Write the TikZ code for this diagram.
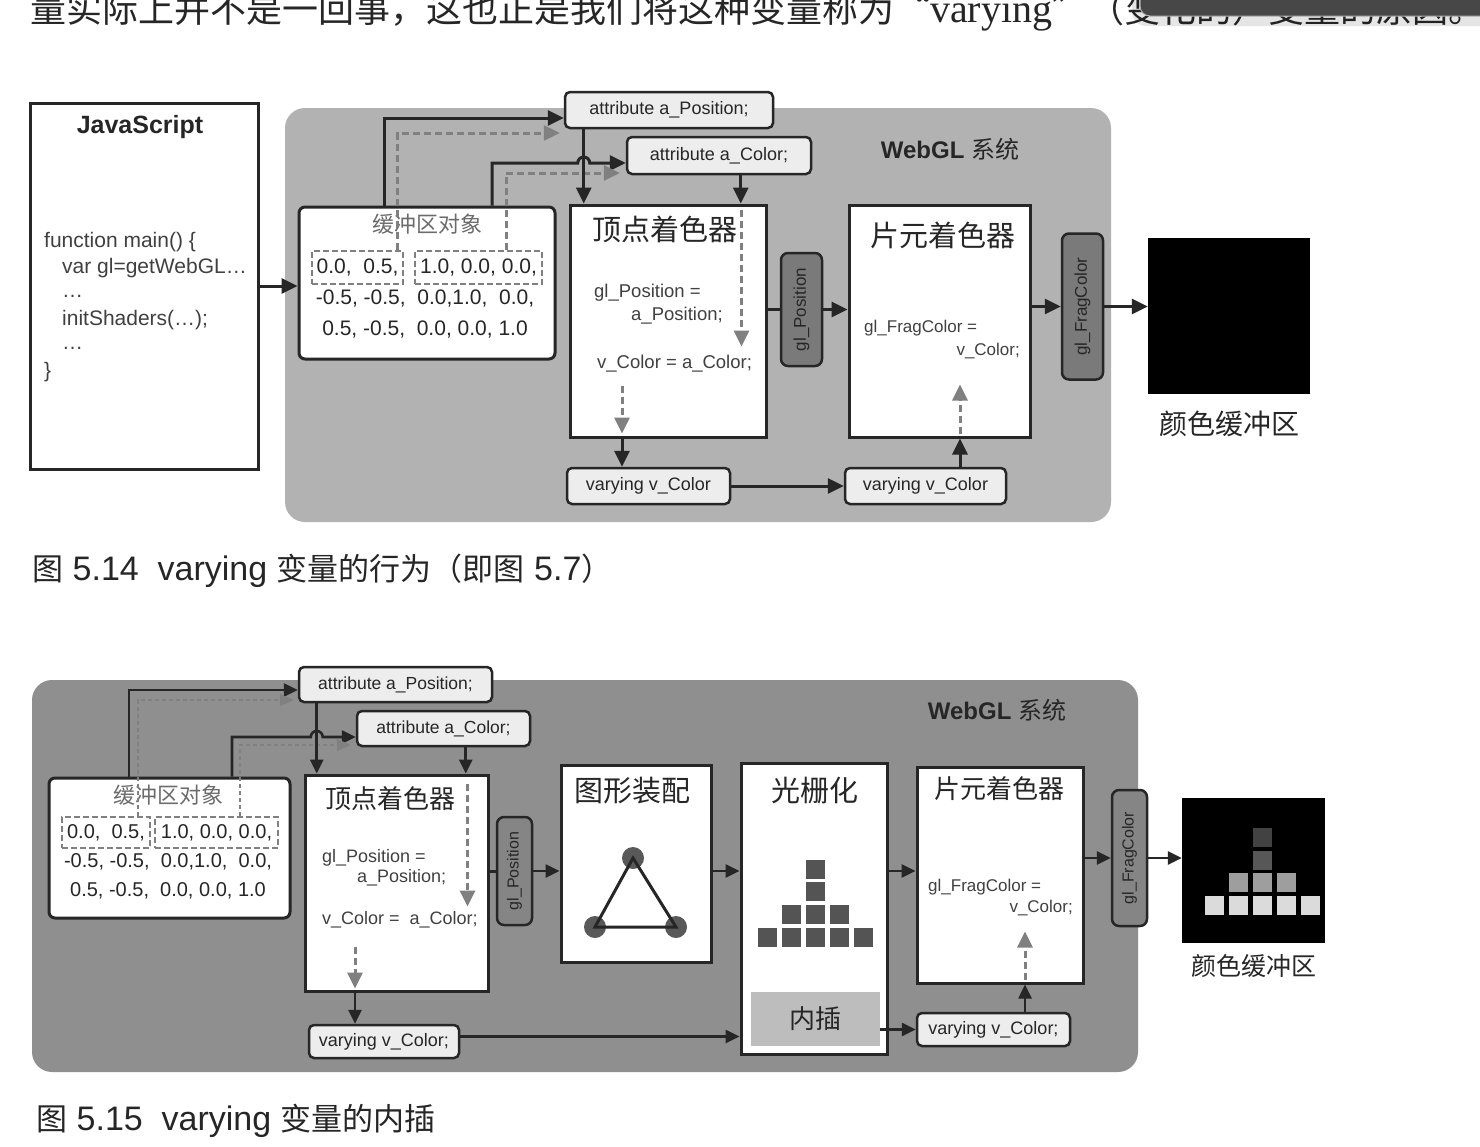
\documentclass[tikz,border=0pt]{standalone}
\usepackage{graphicx}
\usepackage{fontspec}
\setmainfont{Liberation Sans}
\newfontfamily\cjk{Noto Sans CJK SC}
\newfontfamily\bookserif{Liberation Serif}
\usetikzlibrary{arrows.meta, positioning}

\definecolor{panelA}{gray}{0.70}
\definecolor{panelB}{gray}{0.56}
\definecolor{tagfill}{gray}{0.93}
\definecolor{pillA}{gray}{0.48}
\definecolor{pillB}{gray}{0.52}
\definecolor{dashgray}{gray}{0.50}
\definecolor{ink}{gray}{0.15}
\definecolor{codeink}{gray}{0.25}
\definecolor{titlegray}{gray}{0.42}
\definecolor{pixel}{gray}{0.33}
\definecolor{vertexgray}{gray}{0.35}
\definecolor{interpfill}{gray}{0.74}
\definecolor{barfill}{gray}{0.28}
\definecolor{pixA}{gray}{0.86}
\definecolor{pixB}{gray}{0.62}
\definecolor{pixC}{gray}{0.34}
\definecolor{pixD}{gray}{0.26}

\newcommand\pxfont[1]{\fontsize{#1}{#1}\selectfont}

\begin{document}
\begin{tikzpicture}[x=1pt, y=-1pt,
    box/.style={draw=ink, line width=3pt, fill=white, inner sep=0pt},
    bufbox/.style={box, rounded corners=6pt},
    tag/.style={draw=ink, line width=2.5pt, fill=tagfill, rounded corners=5pt, inner sep=0pt, text=ink},
    pill/.style={draw=ink, line width=2.5pt, rounded corners=7pt, inner sep=0pt, text=ink},
    slot/.style={draw=dashgray, line width=2.5pt, dash pattern=on 6pt off 3pt, inner sep=0pt, text=ink},
    code/.style={inner sep=0pt, text=codeink, anchor=base west},
    flow/.style={draw=ink, line width=3pt, -{Triangle[length=16pt,width=15pt]}},
    flowB/.style={draw=ink, line width=2.6pt, -{Triangle[length=14pt,width=13pt]}},
    dflow/.style={draw=dashgray, line width=3pt, dash pattern=on 7pt off 4pt, -{Triangle[length=16pt,width=15pt]}},
    dthin/.style={draw=dashgray, line width=1.8pt, dash pattern=on 4pt off 3pt, -{Triangle[length=14pt,width=12pt]}},
    wire/.style={draw=ink, line width=3pt}
]
\useasboundingbox (0,0) rectangle (1480,1146);
\clip (0,0) rectangle (1480,1146);
\fill[white] (0,0) rectangle (1480,1146);

% body text cut by the page top
\node[anchor=base west, inner sep=0pt, text=ink] (bodyline) at (30,22) {\pxfont{36}\cjk 量实际上并不是一回事，这也正是我们将这种变量称为“{\bookserif\pxfont{40}varying}”（变化的）变量的原因。};
\fill[black, opacity=0.10, rounded corners=14pt] (1132,-20) rectangle (1500,26);
\fill[barfill, draw=gray!60, line width=1pt, rounded corners=10pt] (1140,-20) rectangle (1500,16);

%% figure 5.14
\fill[panelA, rounded corners=20pt] (285,108) rectangle (1111,522);
\node[text=ink] (sysA) at (950,149) {\pxfont{24}\bfseries WebGL {\mdseries\cjk 系统}};

\node[box, minimum width=228pt, minimum height=366pt] (js) at (144,286) {};
\node[text=ink] (jsname) at (140,127) {\pxfont{25}\bfseries JavaScript};
\node[code] (js1) at (44,247) {\pxfont{21}function main() \{};
\node[code] (js2) at (62,273) {\pxfont{21}var gl=getWebGL…};
\node[code] (js3) at (62,297) {\pxfont{21}…};
\node[code] (js4) at (62,325) {\pxfont{21}initShaders(…);};
\node[code] (js5) at (62,349) {\pxfont{21}…};
\node[code] (js6) at (44,377) {\pxfont{21}\}};

\node[bufbox, minimum width=256pt, minimum height=152pt] (buf) at (427,283) {};
\node[text=titlegray] (buftitle) at (427,224) {\pxfont{22}\cjk 缓冲区对象};
\node[slot, minimum width=91pt, minimum height=33pt] (posA) at (357.5,267.5) {\pxfont{21}0.0,\ \ 0.5,};
\node[slot, minimum width=127pt, minimum height=33pt] (colA) at (478.5,267.5) {\pxfont{21}1.0, 0.0, 0.0,};
\node[text=ink] (rowA2) at (425,299) {\pxfont{21}-0.5, -0.5,\ \ 0.0,1.0,\ \ 0.0,};
\node[text=ink] (rowA3) at (425,330) {\pxfont{21}0.5, -0.5,\ \ 0.0, 0.0, 1.0};

\node[tag, minimum width=208pt, minimum height=36pt] (posTag) at (669,110) {\pxfont{18}attribute a\_Position;};
\node[tag, minimum width=184pt, minimum height=37pt] (colTag) at (719,155.5) {\pxfont{18}attribute a\_Color;};

\node[box, minimum width=196pt, minimum height=232pt] (vsA) at (668,321) {};
\node[text=ink] (vsAname) at (665,229) {\pxfont{29}\cjk 顶点着色器};
\node[code] (vsA1) at (594,297) {\pxfont{18.5}gl\_Position =};
\node[code] (vsA2) at (631,320) {\pxfont{18.5}a\_Position;};
\node[code] (vsA3) at (597,368) {\pxfont{18.5}v\_Color = a\_Color;};

\node[pill, fill=pillA, minimum width=41pt, minimum height=113pt] (glpA) at (801.5,309.5) {\rotatebox{90}{\pxfont{17}gl\_Position}};

\node[box, minimum width=181pt, minimum height=232pt] (fsA) at (939.5,321) {};
\node[text=ink] (fsAname) at (943,235) {\pxfont{29}\cjk 片元着色器};
\node[code] (fsA1) at (864,332) {\pxfont{17}gl\_FragColor =};
\node[code, anchor=base east] (fsA2) at (1020,355) {\pxfont{17}v\_Color;};

\node[pill, fill=pillA, minimum width=41pt, minimum height=146pt] (glfA) at (1082.5,306.5) {\rotatebox{90}{\pxfont{17}gl\_FragColor}};

\node[tag, minimum width=163pt, minimum height=36pt] (varA1) at (648.5,486) {\pxfont{18}varying v\_Color};
\node[tag, minimum width=161pt, minimum height=36pt] (varA2) at (925.5,486) {\pxfont{18}varying v\_Color};

\node[fill=black, minimum width=162pt, minimum height=156pt, inner sep=0pt] (cbA) at (1229,316) {};
\node[text=ink, below=13pt of cbA] (cbAname) {\pxfont{28}\cjk 颜色缓冲区};

\draw[flow] (js.east) -- (buf.west |- js.east);
\coordinate (posUpA) at ([xshift=-43pt]buf.north);
\draw[flow] (posUpA) |- ([yshift=-8pt]posTag.west);
\coordinate (colUpA) at ([xshift=65pt]buf.north);
\coordinate (hopA) at ([xshift=-48pt,yshift=-7.5pt]colTag.west);
\draw[flow] (colUpA) |- (hopA) arc[start angle=180, end angle=0, radius=6pt] -- ([yshift=-7.5pt]colTag.west);
\coordinate (posDashA) at ([xshift=40pt]posA.north);
\draw[dflow] (posDashA) |- ([xshift=-4pt,yshift=-23pt]posTag.west);
\coordinate (colDashA) at ([xshift=27.5pt]colA.north);
\draw[dflow] (colDashA) |- ([xshift=-6pt,yshift=-17.5pt]colTag.west);
\coordinate (posDropA) at ([xshift=20pt]posTag.south west);
\draw[flow] (posDropA) -- (posDropA |- vsA.north);
\coordinate (colDropA) at ([xshift=115pt]colTag.south west);
\draw[flow] (colDropA) -- (colDropA |- vsA.north);
\coordinate (colInA) at ([xshift=-26pt,yshift=-6pt]vsA.north east);
\coordinate (colOutA) at ([xshift=-26pt,yshift=92pt]vsA.south east);
\draw[dflow] (colInA) -- (colOutA);
\coordinate (varInA) at ([xshift=-46pt,yshift=53pt]vsA.south);
\coordinate (varOutA) at ([xshift=-46pt,yshift=5pt]vsA.south);
\draw[dflow] (varInA) -- (varOutA);
\coordinate (varDropA) at ([xshift=-46pt]vsA.south);
\draw[flow] (varDropA) -- (varDropA |- varA1.north);
\draw[wire] (glpA.west -| vsA.east) -- (glpA.west);
\draw[flow] (glpA.east) -- (glpA.east -| fsA.west);
\draw[flow] (varA1.east) -- (varA2.west);
\coordinate (varRiseA) at ([xshift=34.5pt]varA2.north);
\draw[flow] (varRiseA) -- (varRiseA |- fsA.south);
\coordinate (fragInA) at ([xshift=20.5pt,yshift=5pt]fsA.south);
\coordinate (fragOutA) at ([xshift=20.5pt,yshift=54pt]fsA.south);
\draw[dflow] (fragInA) -- (fragOutA);
\draw[flow] (glfA.west -| fsA.east) -- (glfA.west);
\draw[flow] (glfA.east) -- (glfA.east -| cbA.west);

\node[anchor=west, text=ink, inner sep=0pt] (capA) at (32,571) {\pxfont{34}{\pxfont{31}\cjk 图} 5.14\ \ varying {\pxfont{31}\cjk 变量的行为（即图} 5.7{\pxfont{31}\cjk ）}};

%% figure 5.15
\fill[panelB, rounded corners=20pt] (32,680) rectangle (1138,1072);
\node[text=ink] (sysB) at (997,710) {\pxfont{24}\bfseries WebGL {\mdseries\cjk 系统}};

\node[bufbox, minimum width=241pt, minimum height=140pt] (bufB) at (169.5,848) {};
\node[text=titlegray] (bufBtitle) at (168,795) {\pxfont{22}\cjk 缓冲区对象};
\node[slot, minimum width=88pt, minimum height=31pt] (posB) at (106,832.5) {\pxfont{20}0.0,\ \ 0.5,};
\node[slot, minimum width=123pt, minimum height=31pt] (colB) at (216.5,832.5) {\pxfont{20}1.0, 0.0, 0.0,};
\node[text=ink] (rowB2) at (168,862) {\pxfont{20}-0.5, -0.5,\ \ 0.0,1.0,\ \ 0.0,};
\node[text=ink] (rowB3) at (168,891) {\pxfont{20}0.5, -0.5,\ \ 0.0, 0.0, 1.0};

\node[tag, minimum width=193pt, minimum height=35pt] (posTagB) at (395.5,684.5) {\pxfont{17.5}attribute a\_Position;};
\node[tag, minimum width=173pt, minimum height=35pt] (colTagB) at (443.5,728.5) {\pxfont{17.5}attribute a\_Color;};

\node[box, minimum width=183pt, minimum height=216pt] (vsB) at (396.5,883) {};
\node[text=ink] (vsBname) at (390,799) {\pxfont{26}\cjk 顶点着色器};
\node[code] (vsB1) at (322,862) {\pxfont{18}gl\_Position =};
\node[code] (vsB2) at (357,882) {\pxfont{18}a\_Position;};
\node[code] (vsB3) at (322,924) {\pxfont{18}v\_Color =\ \ a\_Color;};

\node[pill, fill=pillB, minimum width=35pt, minimum height=108pt] (glpB) at (514.5,871) {\rotatebox{90}{\pxfont{16}gl\_Position}};

\node[box, minimum width=150pt, minimum height=197pt] (asm) at (636,863.5) {};
\node[text=ink] (asmname) at (632,791) {\pxfont{29}\cjk 图形装配};
\coordinate (triT) at (633,858);
\coordinate (triL) at (595,927);
\coordinate (triR) at (676,927);
\foreach \v in {triT, triL, triR}
  \fill[vertexgray] (\v) circle[radius=11pt];
\draw[ink, line width=3pt] (triT) -- (triL) -- (triR) -- cycle;

\node[box, minimum width=146pt, minimum height=291pt] (rast) at (814,908.5) {};
\node[text=ink] (rastname) at (815,791) {\pxfont{29}\cjk 光栅化};
\foreach \cx/\cy in {767/937, 791/937, 815/937, 839/937, 863/937, 791/914, 815/914, 839/914, 815/891, 815/869}
  \fill[pixel] (\cx-9.5,\cy-9.5) rectangle +(19,19);
\node[fill=interpfill, minimum width=129pt, minimum height=54pt, inner sep=0pt, text=ink] (interp) at (815.5,1019) {\pxfont{26}\cjk 内插};

\node[box, minimum width=166pt, minimum height=216pt] (fsB) at (1000,875) {};
\node[text=ink] (fsBname) at (999,789) {\pxfont{26}\cjk 片元着色器};
\node[code] (fsB1) at (928,891) {\pxfont{17}gl\_FragColor =};
\node[code, anchor=base east] (fsB2) at (1073,912) {\pxfont{17}v\_Color;};

\node[pill, fill=pillB, minimum width=35pt, minimum height=136pt] (glfB) at (1129.5,858) {\rotatebox{90}{\pxfont{16}gl\_FragColor}};

\node[tag, minimum width=150pt, minimum height=33pt] (varB1) at (384,1041.5) {\pxfont{18}varying v\_Color;};
\node[tag, minimum width=153pt, minimum height=33pt] (varB2) at (993.5,1029.5) {\pxfont{18}varying v\_Color;};

\node[fill=black, minimum width=143pt, minimum height=145pt, inner sep=0pt] (cbB) at (1253.5,870.5) {};
\foreach \cx in {1214,1238,1262,1286,1310}
  \fill[pixA] (\cx-9.5,895.5) rectangle +(19,19);
\foreach \cx in {1238,1262,1286}
  \fill[pixB] (\cx-9.5,873) rectangle +(19,19);
\fill[pixC] (1252.5,850.5) rectangle +(19,19);
\fill[pixD] (1252.5,828) rectangle +(19,19);
\node[text=ink, below=8pt of cbB] (cbBname) {\pxfont{25}\cjk 颜色缓冲区};

\coordinate (posUpB) at ([xshift=-40.5pt]bufB.north);
\draw[flowB] (posUpB) |- ([yshift=-5.5pt]posTagB.west);
\coordinate (colUpB) at ([xshift=62.5pt]bufB.north);
\coordinate (hopB) at ([xshift=-45pt,yshift=-8.5pt]colTagB.west);
\draw[flowB] (colUpB) |- (hopB) arc[start angle=180, end angle=0, radius=6pt] -- ([yshift=-8.5pt]colTagB.west);
\coordinate (posDashB) at ([xshift=32pt]posB.north);
\draw[dthin] (posDashB) |- ([xshift=-4pt,yshift=-15.5pt]posTagB.west);
\coordinate (colDashB) at ([xshift=23.5pt]colB.north);
\draw[dthin] (colDashB) |- ([xshift=-5pt,yshift=-16.5pt]colTagB.west);
\coordinate (posDropB) at ([xshift=19pt]posTagB.south west);
\draw[flowB] (posDropB) -- (posDropB |- vsB.north);
\coordinate (colDropB) at ([xshift=110pt]colTagB.south west);
\draw[flowB] (colDropB) -- (colDropB |- vsB.north);
\coordinate (colInB) at ([xshift=-22pt,yshift=-10pt]vsB.north east);
\coordinate (colOutB) at ([xshift=-22pt,yshift=86pt]vsB.south east);
\draw[dflow] (colInB) -- (colOutB);
\coordinate (varInB) at ([xshift=-41.5pt,yshift=46pt]vsB.south);
\coordinate (varOutB) at ([xshift=-41.5pt,yshift=4pt]vsB.south);
\draw[dflow] (varInB) -- (varOutB);
\coordinate (varDropB) at ([xshift=-41.5pt]vsB.south);
\draw[flowB] (varDropB) -- (varDropB |- varB1.north);
\coordinate (varOutB1) at ([yshift=5pt]varB1.east);
\draw[flowB] (varOutB1) -- (varOutB1 -| rast.west);
\draw[wire] (glpB.west -| vsB.east) -- (glpB.west);
\draw[flowB] (glpB.east) -- (glpB.east -| asm.west);
\draw[flowB] (glpB.east -| asm.east) -- (glpB.east -| rast.west);
\draw[flowB] (glpB.east -| rast.east) -- (glpB.east -| fsB.west);
\draw[flowB] (interp.east |- varB2.west) -- (varB2.west);
\coordinate (varRiseB) at ([xshift=31.5pt]varB2.north);
\draw[flowB] (varRiseB) -- (varRiseB |- fsB.south);
\coordinate (fragInB) at ([xshift=25pt,yshift=5pt]fsB.south);
\coordinate (fragOutB) at ([xshift=25pt,yshift=53pt]fsB.south);
\draw[dflow] (fragInB) -- (fragOutB);
\draw[flowB] (glfB.west -| fsB.east) -- (glfB.west);
\draw[flowB] (glfB.east) -- (glfB.east -| cbB.west);

\node[anchor=west, text=ink, inner sep=0pt] (capB) at (36,1121) {\pxfont{34}{\pxfont{31}\cjk 图} 5.15\ \ varying {\pxfont{31}\cjk 变量的内插}};
\end{tikzpicture}
\end{document}
